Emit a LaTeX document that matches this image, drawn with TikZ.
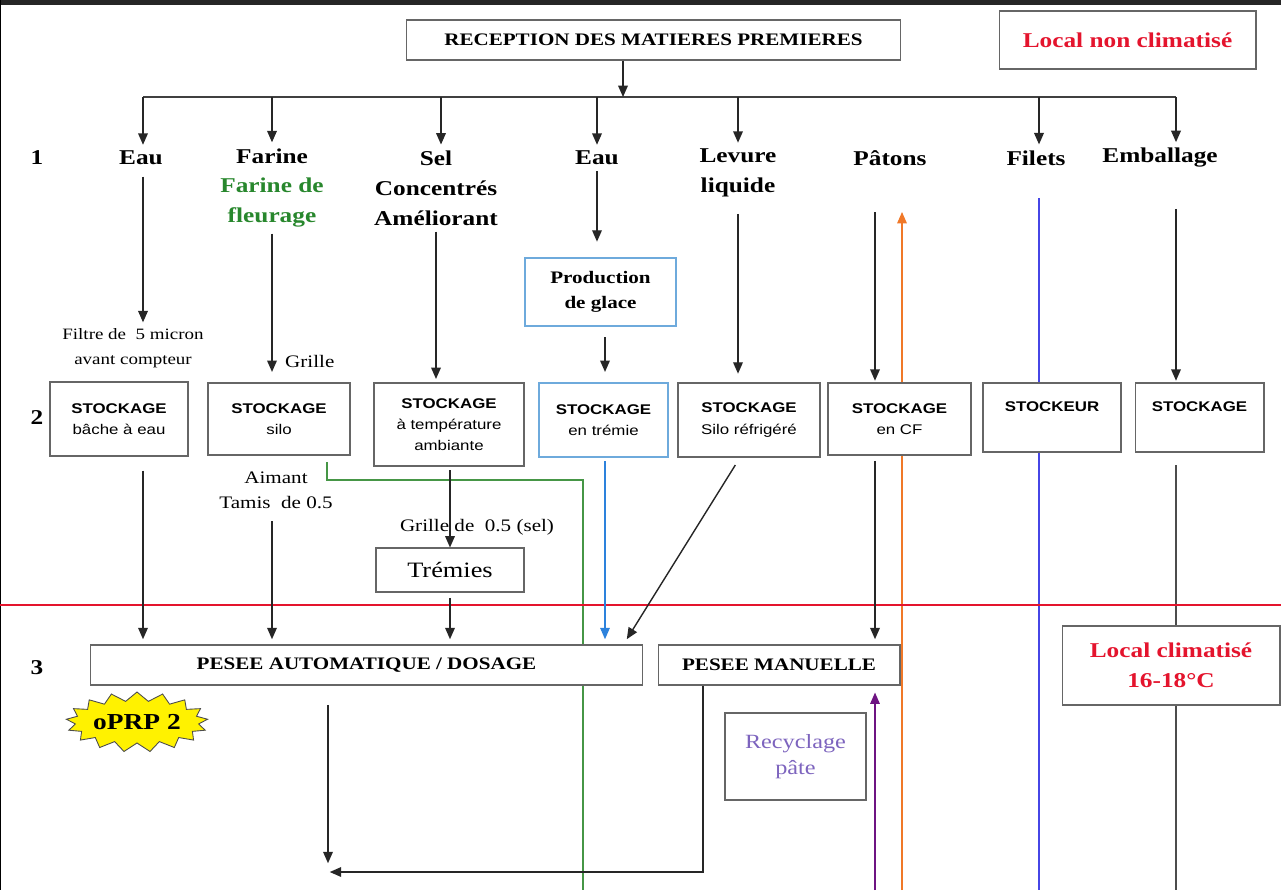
\documentclass[tikz,border=0pt]{standalone}
\usepackage{fontspec}
\setmainfont{Liberation Serif}[FakeStretch=1.2]
\setsansfont{Liberation Sans}[FakeStretch=1.2]
\usetikzlibrary{arrows.meta,shapes.symbols}

\definecolor{rouge}{RGB}{228,20,45}
\definecolor{vert}{RGB}{40,135,45}
\definecolor{ligvert}{RGB}{70,150,70}
\definecolor{bleuglace}{RGB}{110,170,220}
\definecolor{bleutr}{RGB}{45,130,220}
\definecolor{bleufil}{RGB}{70,70,230}
\definecolor{orange}{RGB}{240,120,40}
\definecolor{violet}{RGB}{110,20,130}
\definecolor{lavande}{RGB}{125,100,190}

\tikzset{
  arr/.style={-{Triangle[width=5.5pt,length=6.5pt]}, line width=0.8pt, black!85},
  box/.style={draw=black!60, line width=0.6pt, fill=white, align=center, inner sep=1pt},
  stock/.style={box, font=\sffamily\fontsize{8}{12}\selectfont},
  lbl/.style={font=\bfseries\fontsize{12}{17}\selectfont, align=center},
  note/.style={font=\fontsize{9}{14}\selectfont, align=center},
  fin/.style={line width=0.6pt}
}

\begin{document}
\begin{tikzpicture}[x=0.02cm,y=-0.02cm]
	\useasboundingbox (0,0) rectangle (1281,890);
	%screenshot edge
	\fill[black!85] (0,0) rectangle (1281,4.5);
	\fill[black] (0,0) rectangle (1.5,890);
	%top boxes
	\node[box, minimum width=9.9cm, minimum height=0.8cm, font=\bfseries\fontsize{10}{12}\selectfont] (recep) at (653.5,40) {RECEPTION DES MATIERES PREMIERES};
	\node[box, minimum width=5.14cm, minimum height=1.16cm, text=rouge, font=\bfseries\fontsize{12}{14}\selectfont] (nonclim) at (1127.5,40) {Local non climatisé};
	%row 1
	\node[lbl] (r1) at (37,158) {1};
	\node[lbl] (eauA) at (141,158) {Eau};
	\node[lbl] (farine) at (272,188) {Farine\\\textcolor{vert}{Farine de}\\\textcolor{vert}{fleurage}};
	\node[lbl] (sel) at (436,188) {Sel\\Concentrés\\Améliorant};
	\node[lbl] (eauB) at (597,158) {Eau};
	\node[lbl] (levure) at (738,173) {Levure\\liquide};
	\node[lbl] (patons) at (890,158) {Pâtons};
	\node[lbl] (filets) at (1036,158) {Filets};
	\node[lbl] (emb) at (1160,158) {Emballage};
	%bus
	\coordinate (bus) at (623,97);
	\draw[line width=0.8pt, black!75] (143,97) -- (1176,97);
	\draw[arr] (recep.south -| bus) -- (bus);
	\foreach \x/\n in {143/eauA,272/farine,441/sel,597/eauB,738/levure,1039/filets,1176/emb}
		\draw[arr] (\x,97) -- (\x,97 |- \n.north);
	%long lines behind the boxes
	\coordinate (orgB) at (902,890);
	\coordinate (orgT) at (902,212);
	\draw[arr, orange, fin] (orgB) -- (orgT);
	\coordinate (filB) at (1039,890);
	\draw[bleufil, fin] (filB |- 0,198) -- (filB);
	\coordinate (embB) at (1176,890);
	\draw[black!70, fin] (embB |- 0,465) -- (embB);
	\coordinate (silo) at (327,462);
	\draw[ligvert, fin] (silo) -- (327,480) -- (583,480) -- (583,890);
	\draw[rouge, fin] (0,605) -- (1281,605);
	%notes
	\node[note] (filtre) at (133,348) {Filtre de~~5 micron\\avant compteur};
	\node[note, font=\fontsize{10}{12}\selectfont, anchor=west] (grille1) at (279,361) {Grille};
	\node[note, font=\fontsize{10}{14}\selectfont] (aimant) at (276,490) {Aimant\\Tamis~~de 0.5};
	\node[note, font=\fontsize{10}{12}\selectfont] (grille2) at (477,527) {Grille de~~0.5 (sel)};
	%row 2
	\node[lbl] (r2) at (37,418) {2};
	\node[box, draw=bleuglace, minimum width=3.02cm, minimum height=1.36cm, font=\bfseries\fontsize{10}{14}\selectfont] (glace) at (600.5,292) {Production\\de glace};
	\node[stock, minimum width=2.76cm, minimum height=1.48cm] (s1) at (119,419) {\textbf{STOCKAGE}\\bâche à eau};
	\node[stock, minimum width=2.84cm, minimum height=1.44cm] (s2) at (279,419) {\textbf{STOCKAGE}\\silo};
	\node[stock, minimum width=3.0cm, minimum height=1.66cm] (s3) at (449,424.5) {\textbf{STOCKAGE}\\à température\\ambiante};
	\node[stock, draw=bleuglace, minimum width=2.58cm, minimum height=1.48cm] (s4) at (603.5,420) {\textbf{STOCKAGE}\\en trémie};
	\node[stock, minimum width=2.84cm, minimum height=1.48cm] (s5) at (749,420) {\textbf{STOCKAGE}\\Silo réfrigéré};
	\node[stock, minimum width=2.86cm, minimum height=1.44cm] (s6) at (899.5,419) {\textbf{STOCKAGE}\\en CF};
	\node[stock, minimum width=2.76cm, minimum height=1.38cm] (s7) at (1052,417.5) {\textbf{STOCKEUR}\\~};
	\node[stock, minimum width=2.58cm, minimum height=1.38cm] (s8) at (1199.5,417.5) {\textbf{STOCKAGE}\\~};
	\node[box, minimum width=2.96cm, minimum height=0.88cm, font=\fontsize{12.5}{14}\selectfont] (trem) at (450,570) {Trémies};
	%row 3
	\node[lbl] (r3) at (37,668) {3};
	\node[box, minimum width=11.06cm, minimum height=0.8cm, font=\bfseries\fontsize{10}{12}\selectfont] (pesA) at (366.5,665) {PESEE AUTOMATIQUE / DOSAGE};
	\node[box, minimum width=4.84cm, minimum height=0.8cm, font=\bfseries\fontsize{10}{12}\selectfont] (pesM) at (779,665) {PESEE MANUELLE};
	\node[box, minimum width=4.36cm, minimum height=1.58cm, text=rouge, font=\bfseries\fontsize{12}{17}\selectfont] (clim) at (1171,665.5) {Local climatisé\\16-18°C};
	\node[starburst, draw=black!70, fill=yellow, line width=0.5pt, minimum width=2.7cm, minimum height=1.2cm, starburst points=17, starburst point height=0.18cm, random starburst=0, inner sep=0pt, font=\bfseries\fontsize{13}{14}\selectfont] (oprp) at (137,722) {oPRP 2};
	\node[box, minimum width=2.82cm, minimum height=1.74cm, text=lavande, font=\fontsize{11.5}{15}\selectfont] (recy) at (795.5,756.5) {Recyclage\\pâte};
	%flows 1 -> 2
	\draw[arr, shorten <=3pt] (eauA.south -| 143,0) -- (143,0 |- filtre.north);
	\draw[arr, shorten >=6pt] (farine.south) -- (farine.south |- s2.north);
	\draw[arr, shorten >=2pt] (sel.south) -- (sel.south |- s3.north);
	\draw[arr, shorten >=9pt] (eauB.south) -- (eauB.south |- glace.north);
	\draw[arr, shorten <=6pt, shorten >=6pt] (glace.south -| 605,0) -- (605,0 |- s4.north);
	\draw[arr, shorten <=6pt, shorten >=5pt] (levure.south) -- (levure.south |- s5.north);
	\coordinate (patA) at (875,212);
	\draw[arr, shorten >=1pt] (patA) -- (patA |- s6.north);
	\draw[arr, shorten <=20pt, shorten >=1pt] (emb.south -| embB) -- (embB |- s8.north);
	%flows 2 -> 3
	\draw[arr, shorten <=8pt, shorten >=3pt] (143,0 |- s1.south) -- (143,0 |- pesA.north);
	\draw[arr, shorten <=4pt, shorten >=3pt] (aimant.south -| 272,0) -- (272,0 |- pesA.north);
	\draw[arr, shorten <=2pt] (s3.south -| trem.north) -- (trem.north);
	\draw[arr, shorten <=3pt, shorten >=3pt] (trem.south) -- (trem.south |- pesA.north);
	\draw[arr, bleutr, fin, shorten <=2pt, shorten >=3pt] (605,0 |- s4.south) -- (605,0 |- pesA.north);
	\draw[arr, shorten <=5pt] (740,0 |- s5.south) -- ([xshift=-9.5pt,yshift=3pt]pesA.north east);
	\draw[arr, shorten <=3pt, shorten >=3pt] (875,0 |- s6.south) -- (875,0 |- pesM.north);
	%towards next step
	\coordinate (mix) at (328,872);
	\draw[arr, shorten <=11pt, shorten >=5pt] (pesA.south -| mix) -- (mix);
	\draw[arr, shorten >=1pt] (pesM.south -| 703,0) -- (703,872) -- (mix);
	\coordinate (recyB) at (875,890);
	\draw[arr, violet, fin, shorten >=4pt] (recyB) -- (recyB |- pesM.south);
\end{tikzpicture}
\end{document}
